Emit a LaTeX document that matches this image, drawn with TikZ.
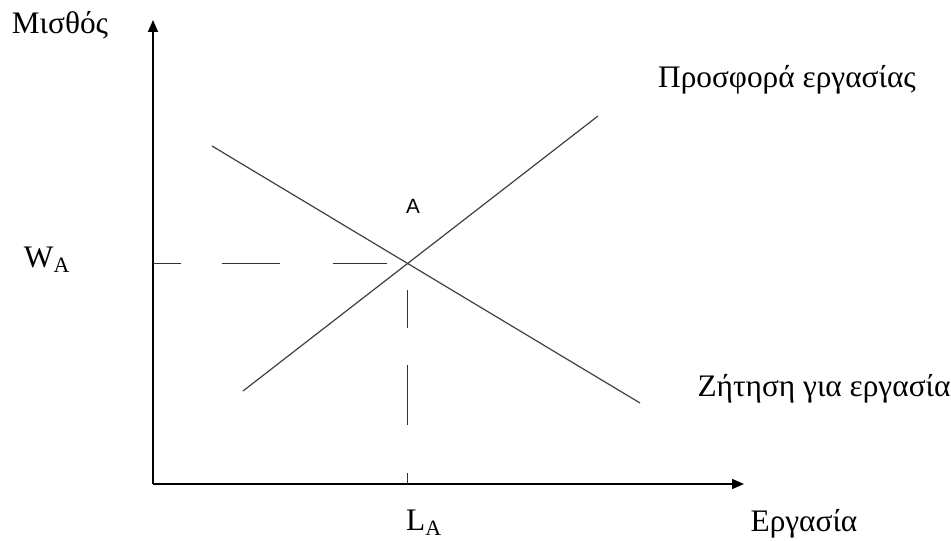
\documentclass[tikz,border=0pt]{standalone}
\usepackage{fontspec}
\setmainfont{Liberation Serif}
\newfontfamily\labelsans{Liberation Sans}
\usetikzlibrary{arrows.meta}
\tikzset{
  axis/.style={line width=1.2pt,-{Triangle[length=9pt,width=7.5pt]}},
  curve/.style={line width=0.9pt,draw=black!75},
  guide/.style={line width=1.1pt,draw=black!80},
  lbl/.style={inner sep=0pt,font=\fontsize{23.5}{28}\selectfont}
}
\begin{document}
\begin{tikzpicture}[x=0.75pt,y=-0.75pt]
\useasboundingbox (0,0) rectangle (951,541);
% axes
\coordinate (O) at (153,484);
\coordinate (ytop) at (153,20);
\coordinate (xend) at (744,484);
\draw[axis] (O) -- (ytop);
\draw[axis] (O) -- (xend);
% supply and demand
\coordinate (s1) at (243,391);
\coordinate (s2) at (598,116);
\coordinate (d1) at (212,146);
\coordinate (d2) at (640,403);
\draw[curve] (s1) -- (s2);
\draw[curve] (d1) -- (d2);
\coordinate (A) at (intersection of s1--s2 and d1--d2);
\coordinate (wA) at (O |- A);
\coordinate (lA) at (A |- O);
\draw[guide,dash pattern=on 21pt off 30.75pt on 43.5pt off 39.75pt on 40.5pt off 20pt] (wA) -- (A);
\draw[guide,dash pattern=on 0pt off 20.25pt on 28.5pt off 27.75pt on 45pt off 36pt on 10pt off 10pt] (A) -- (lA);
% labels
\node[lbl] (wage) at (60,25) {Μισθός};
\node[lbl] (wlab) at (47,260) {W\textsubscript{A}};
\node[lbl,font=\labelsans\fontsize{15.5}{18}\selectfont] (alab) at (413,206) {A};
\node[lbl] (supply) at (787,80) {Προσφορά εργασίας};
\node[lbl] (demand) at (824,389) {Ζήτηση για εργασία};
\node[lbl] (llab) at (424,523) {L\textsubscript{A}};
\node[lbl] (labour) at (804,524) {Εργασία};
\end{tikzpicture}
\end{document}
